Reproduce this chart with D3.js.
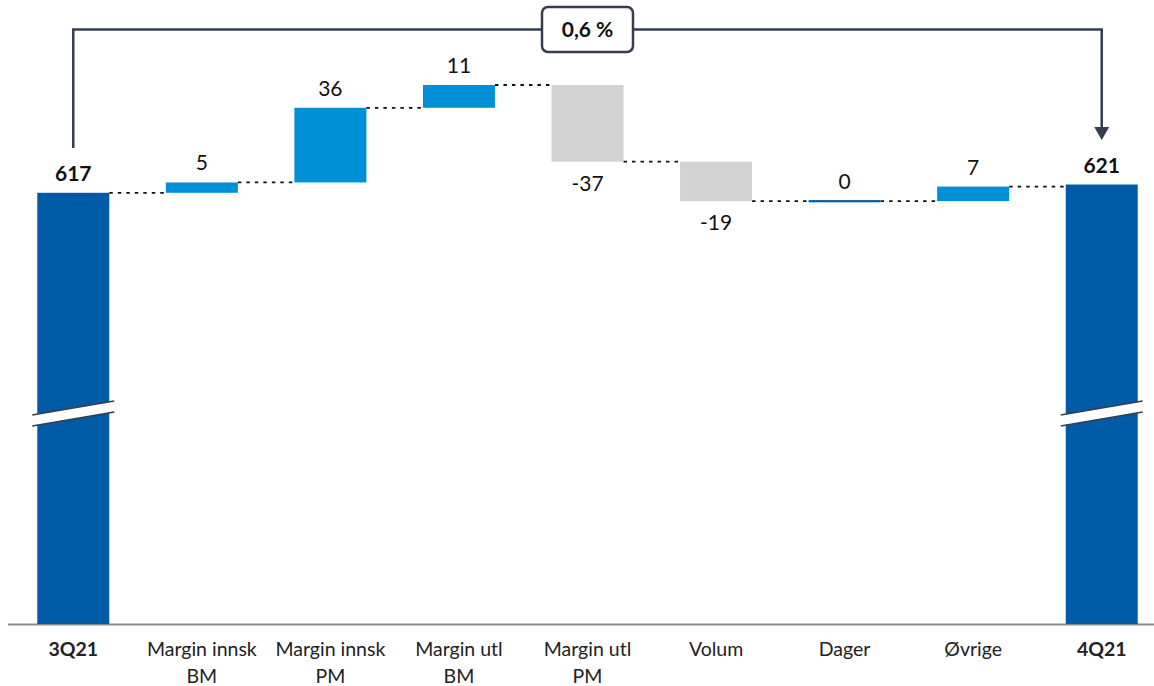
<!DOCTYPE html>
<html>
<head>
<meta charset="utf-8">
<script src="https://cdn.jsdelivr.net/npm/d3@7"></script>
<style>
  html, body { margin: 0; padding: 0; background: #fff; }
  svg { display: block; font-family: Lato, "Open Sans", sans-serif; }
</style>
</head>
<body>
<div id="chart"></div>
<script>
const categories = ["3Q21", "Margin innsk\nBM", "Margin innsk\nPM", "Margin utl\nBM", "Margin utl\nPM", "Volum", "Dager", "Øvrige", "4Q21"];
const values = [617, 5, 36, 11, -37, -19, 0, 7, 621];
const valueLabels = ["617", "5", "36", "11", "-37", "-19", "0", "7", "621"];
const changeLabel = "0,6 %";

const totalColor = "#005ba6";
const upColor = "#0090d5";
const downColor = "#d3d3d3";
const bracketColor = "#343e50";

const width = 1154, height = 686;
const svg = d3.select("#chart").append("svg")
    .attr("width", width)
    .attr("height", height);

// broken axis: bottom of the plot is not zero
const y = d3.scaleLinear().domain([409, 710]).range([624, 0]);
const x = d3.scaleBand()
    .domain(d3.range(categories.length))
    .range([9, 1166])
    .paddingInner(0.44)
    .paddingOuter(0.22);

// build the waterfall steps
var running = 0;
var steps = values.map(function(v, i) {
    var isTotal = (i === 0 || i === values.length - 1);
    var start, end;
    if (isTotal) {
        start = y.domain()[0];
        end = v;
        running = v;
    } else {
        start = running;
        end = running + v;
        running = end;
    }
    return {i: i, value: v, isTotal: isTotal, start: start, end: end, label: valueLabels[i]};
});

// axis line
svg.append("line")
    .attr("x1", 8).attr("x2", width)
    .attr("y1", 624.5).attr("y2", 624.5)
    .attr("stroke", "#8c8c8c")
    .attr("stroke-width", 2);

// connectors
for (var k = 0; k < steps.length - 1; k++) {
    var lvl = steps[k].end;
    svg.append("line")
        .attr("x1", x(k) + x.bandwidth())
        .attr("x2", x(k + 1))
        .attr("y1", y(lvl)).attr("y2", y(lvl))
        .attr("stroke", "#111")
        .attr("stroke-width", 1.8)
        .attr("stroke-dasharray", "3.5,5");
}

// bars
svg.selectAll("rect.bar")
    .data(steps)
    .join("rect")
    .attr("class", "bar")
    .attr("x", function(d) { return x(d.i); })
    .attr("width", x.bandwidth())
    .attr("y", function(d) {
        var top = y(Math.max(d.start, d.end));
        return d.value === 0 ? top - 1 : top;
    })
    .attr("height", function(d) {
        var h = Math.abs(y(d.start) - y(d.end));
        return Math.max(h, 2.2);
    })
    .attr("fill", function(d) {
        if (d.isTotal || d.value === 0) return totalColor;
        return d.value > 0 ? upColor : downColor;
    });

// axis breaks on the total bars
var breakY = 413;
steps.filter(function(d) { return d.isTotal; }).forEach(function(d) {
    var x0 = x(d.i) - 5, x1 = x(d.i) + x.bandwidth() + 5;
    svg.append("path")
        .attr("d", "M" + x0 + "," + (breakY + 2) + "L" + x1 + "," + (breakY - 12) +
                   "L" + x1 + "," + (breakY - 1) + "L" + x0 + "," + (breakY + 13) + "Z")
        .attr("fill", "#fff");
    [0, 11].forEach(function(off) {
        svg.append("line")
            .attr("x1", x0).attr("y1", breakY + 2 + off)
            .attr("x2", x1).attr("y2", breakY - 12 + off)
            .attr("stroke", bracketColor)
            .attr("stroke-width", 1.6);
    });
});

// value labels
svg.selectAll("text.val")
    .data(steps)
    .join("text")
    .attr("class", "val")
    .attr("x", function(d) { return x(d.i) + x.bandwidth() / 2; })
    .attr("y", function(d) {
        if (d.value < 0) return y(d.end) + 29;
        return y(Math.max(d.start, d.end)) - 12;
    })
    .attr("text-anchor", "middle")
    .attr("font-size", 21)
    .attr("font-weight", function(d) { return d.isTotal ? "bold" : "normal"; })
    .attr("fill", "#111")
    .text(function(d) { return d.label; });

// category labels
categories.forEach(function(c, i) {
    var t = svg.append("text")
        .attr("x", x(i) + x.bandwidth() / 2)
        .attr("y", 656)
        .attr("text-anchor", "middle")
        .attr("font-size", 19.5)
        .attr("font-weight", (i === 0 || i === categories.length - 1) ? "bold" : "normal")
        .attr("fill", "#222");
    c.split("\n").forEach(function(line, j) {
        t.append("tspan")
            .attr("x", x(i) + x.bandwidth() / 2)
            .attr("dy", j === 0 ? 0 : 27)
            .text(line);
    });
});

// change bracket from first total to last total
var xa = x(0) + x.bandwidth() / 2;
var xb = x(categories.length - 1) + x.bandwidth() / 2;
var bracketY = 29.5;
svg.append("path")
    .attr("d", "M" + xa + ",148L" + xa + "," + bracketY + "L" + xb + "," + bracketY + "L" + xb + ",128")
    .attr("fill", "none")
    .attr("stroke", bracketColor)
    .attr("stroke-width", 2.5);
svg.append("path")
    .attr("d", "M" + (xb - 7.5) + ",127L" + (xb + 7.5) + ",127L" + xb + ",140Z")
    .attr("fill", bracketColor);

var boxCx = (xa + xb) / 2;
svg.append("rect")
    .attr("x", boxCx - 45.5).attr("y", 7)
    .attr("width", 91).attr("height", 45)
    .attr("rx", 6).attr("ry", 6)
    .attr("fill", "#fff")
    .attr("stroke", bracketColor)
    .attr("stroke-width", 2.5);
svg.append("text")
    .attr("x", boxCx).attr("y", 37)
    .attr("text-anchor", "middle")
    .attr("font-size", 21)
    .attr("font-weight", "bold")
    .attr("fill", "#111")
    .text(changeLabel);
</script>
</body>
</html>
